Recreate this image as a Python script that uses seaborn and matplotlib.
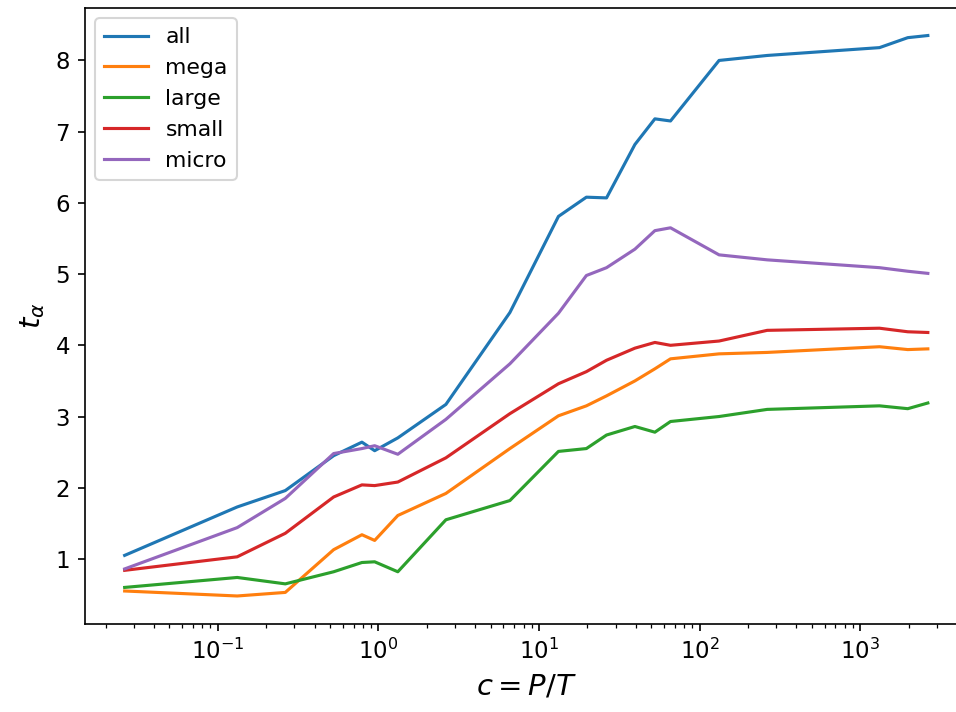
import numpy as np
import pandas as pd
import matplotlib
matplotlib.use("Agg")
import matplotlib.pyplot as plt
import seaborn as sns

c_values = [0.0263, 0.132, 0.263, 0.526, 0.789, 0.947, 1.32, 2.63, 6.58, 13.2,
            19.7, 26.3, 39.5, 52.6, 65.8, 132, 263, 1316, 1974, 2632]

t_all = [1.05, 1.73, 1.96, 2.45, 2.64, 2.52, 2.70, 3.17, 4.46, 5.81,
         6.08, 6.07, 6.82, 7.18, 7.15, 8.00, 8.07, 8.18, 8.32, 8.35]
t_mega = [0.55, 0.48, 0.53, 1.13, 1.34, 1.26, 1.61, 1.92, 2.55, 3.01,
          3.15, 3.29, 3.50, 3.67, 3.81, 3.88, 3.90, 3.98, 3.94, 3.95]
t_large = [0.60, 0.74, 0.65, 0.82, 0.95, 0.96, 0.82, 1.55, 1.82, 2.51,
           2.55, 2.74, 2.86, 2.78, 2.93, 3.00, 3.10, 3.15, 3.11, 3.19]
t_small = [0.84, 1.03, 1.36, 1.87, 2.04, 2.03, 2.08, 2.42, 3.04, 3.46,
           3.63, 3.79, 3.96, 4.04, 4.00, 4.06, 4.21, 4.24, 4.19, 4.18]
t_micro = [0.86, 1.44, 1.85, 2.48, 2.55, 2.59, 2.47, 2.96, 3.74, 4.45,
           4.98, 5.09, 5.35, 5.61, 5.65, 5.27, 5.20, 5.09, 5.04, 5.01]

groups = ["all", "mega", "large", "small", "micro"]
series = [t_all, t_mega, t_large, t_small, t_micro]

df = pd.DataFrame({
    "c": np.tile(c_values, len(groups)),
    "t": np.concatenate(series),
    "group": np.repeat(groups, len(c_values)),
})

dpi = 150
fig = plt.figure(figsize=(956 / dpi, 712 / dpi), dpi=dpi)
ax = fig.add_axes([84.5 / 956, 1 - 624 / 712, (968 - 84.5) / 956, (624 - 7.5) / 712])
ax.set_xscale("log")

palette = sns.color_palette("tab10", 5)
sns.lineplot(data=df, x="c", y="t", hue="group", hue_order=groups,
             palette=palette, linewidth=1.5, ax=ax, legend=True)

ax.spines["right"].set_visible(False)
ax.tick_params(axis="both", labelsize=11)
ax.set_xlabel(r"$c = P/T$", fontsize=14)
ax.set_ylabel(r"$t_\alpha$", fontsize=14)
sns.move_legend(ax, "upper left", title=None, fontsize=10.5)

fig.savefig("out.png", dpi=dpi)
